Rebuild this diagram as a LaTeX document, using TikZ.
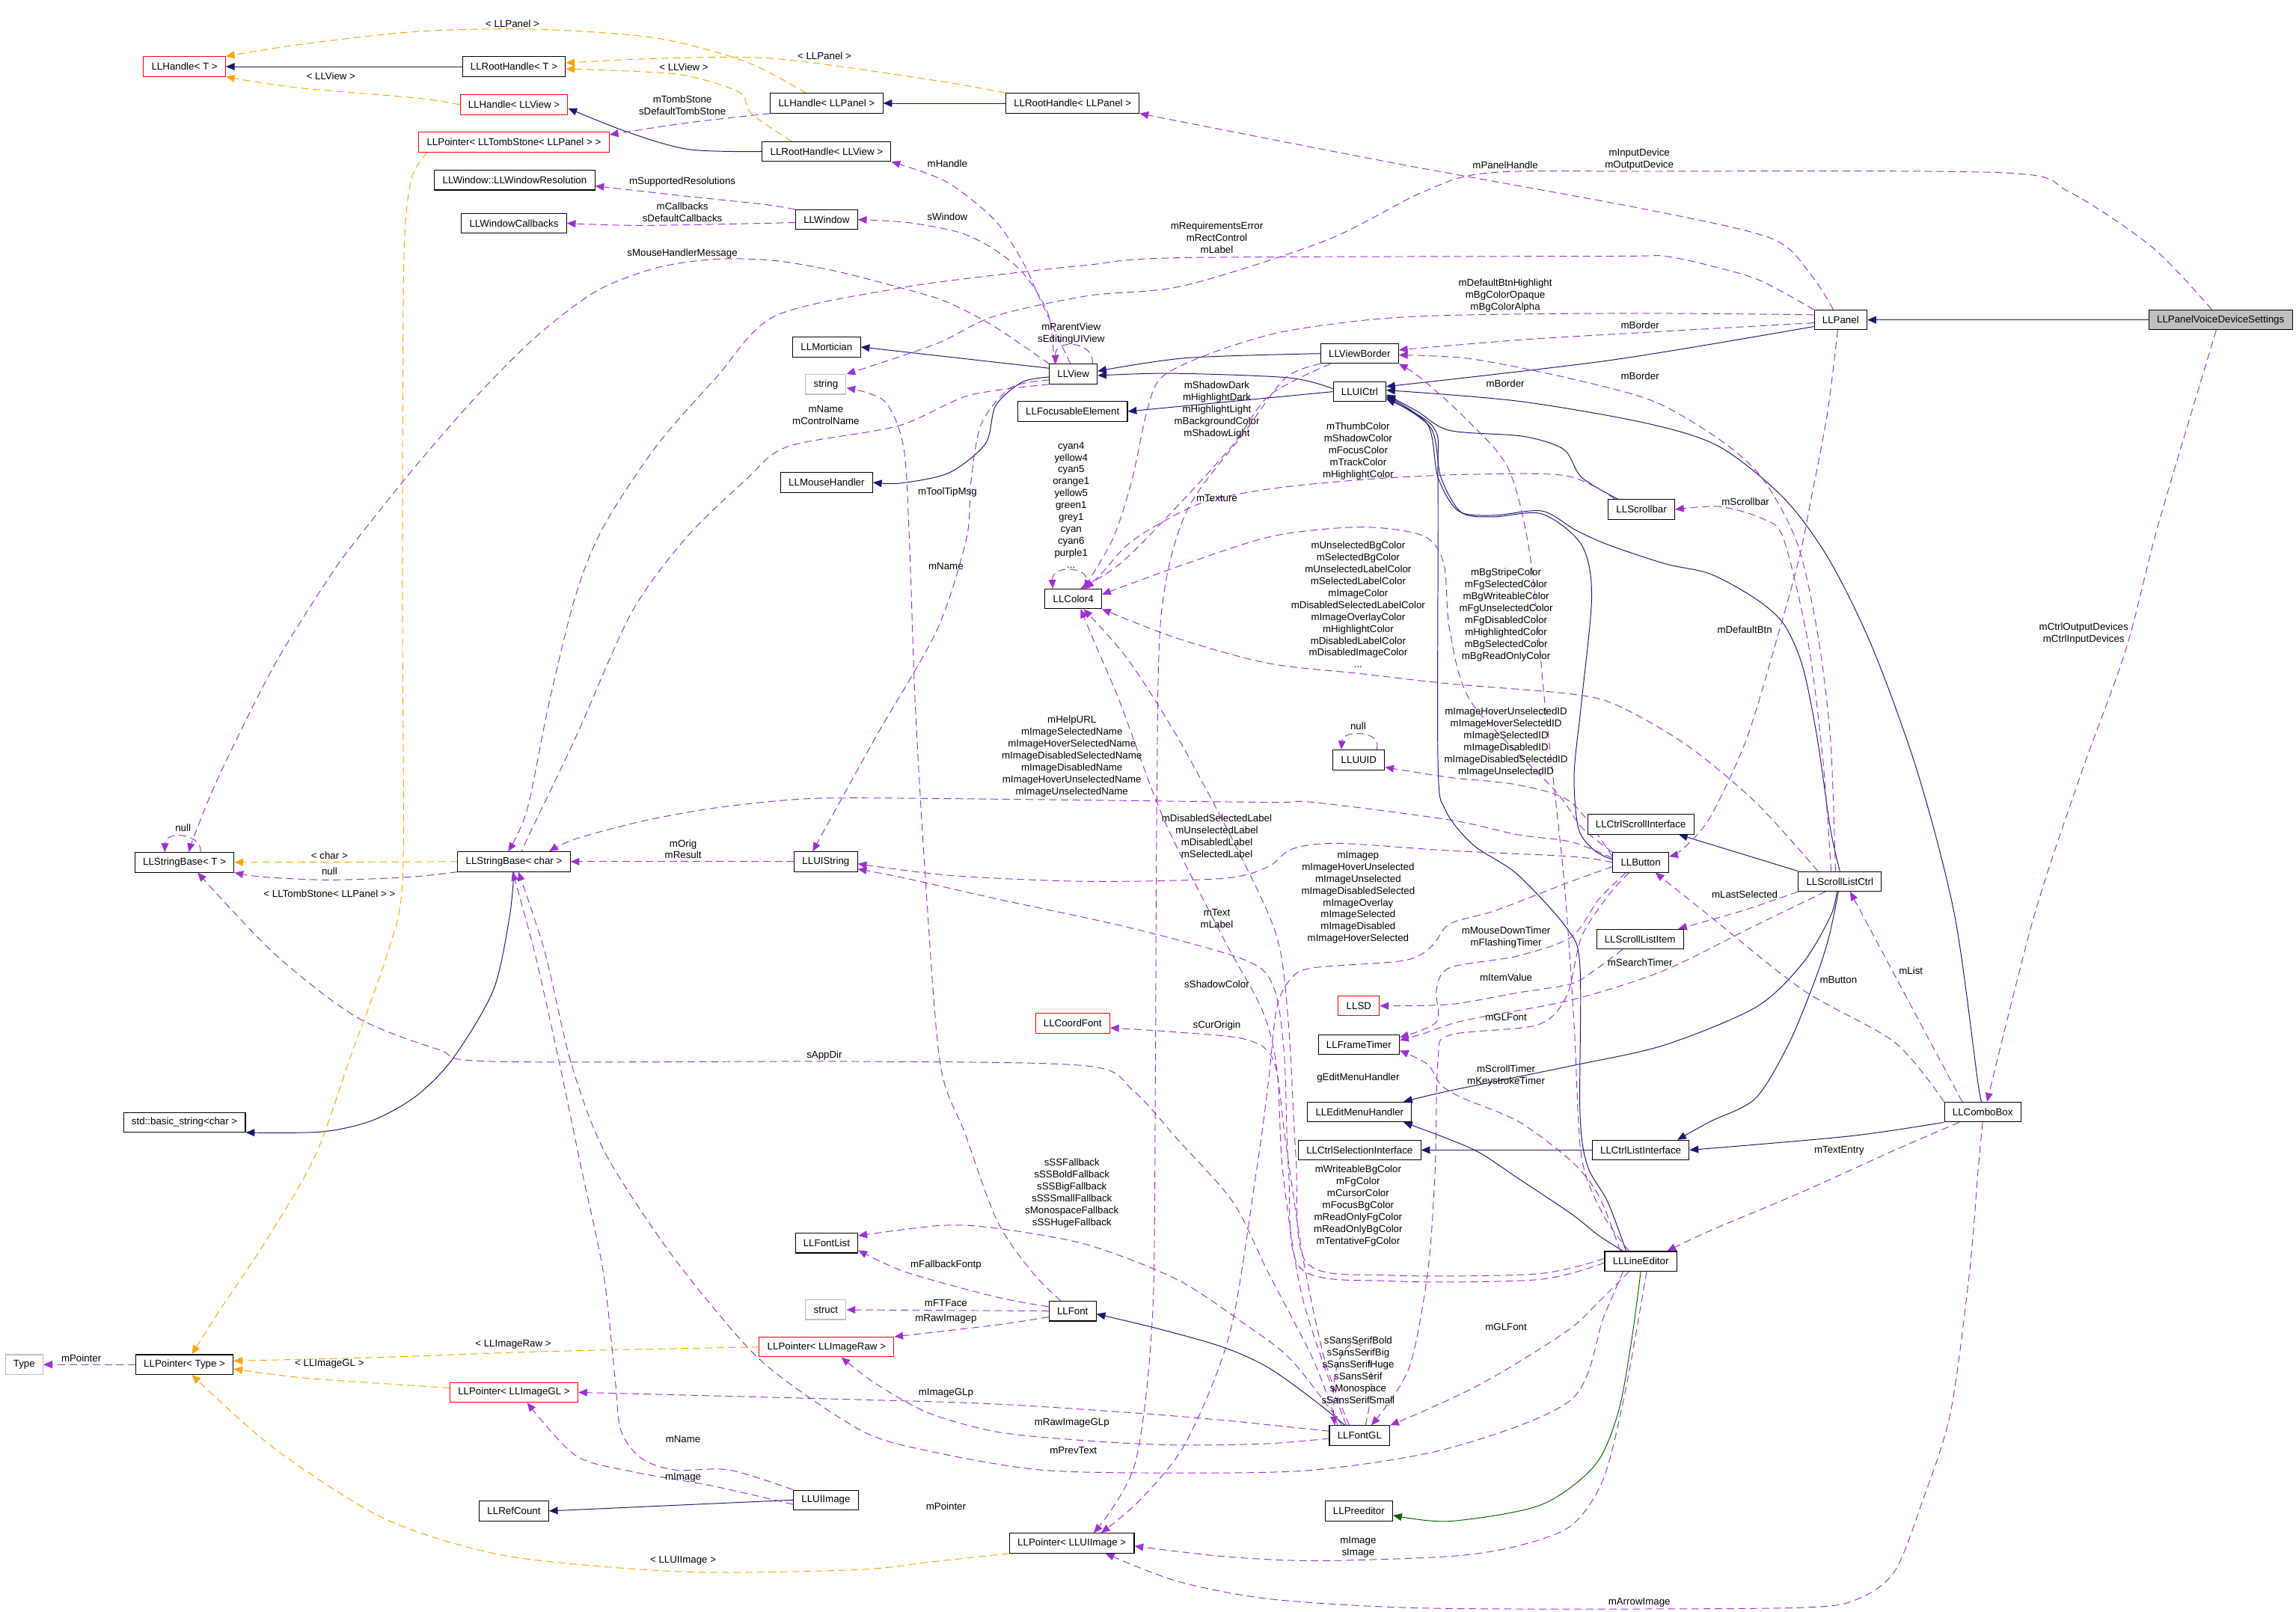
\documentclass[tikz,border=0pt]{standalone}
\usepackage{fontspec}
\setmainfont{Liberation Sans}
\usetikzlibrary{arrows.meta}
\usetikzlibrary{backgrounds}
\definecolor{edgeblue}{HTML}{191970}
\definecolor{edgepurple}{HTML}{9A32CD}
\definecolor{edgeorange}{HTML}{FFA500}
\definecolor{edgegreen}{HTML}{006400}
\definecolor{boxgray}{HTML}{BFBFBF}
\tikzset{cls/.style = {draw, fill=white, line width=0.55pt, minimum height=13.5pt,
                       inner xsep=5.5pt, inner ysep=0pt, font=\fontsize{6.8}{8.15}\selectfont}}
\tikzset{redcls/.style = {cls, draw=red}}
\tikzset{extcls/.style = {cls, draw=boxgray}}
\tikzset{maincls/.style = {cls, fill=boxgray}}
\tikzset{lbl/.style = {inner sep=0pt, align=center, font=\fontsize{6.8}{8.15}\selectfont}}
\tikzset{inherit/.style = {draw=edgeblue, line width=0.5pt, -{Triangle[length=6pt,width=5pt]}}}
\tikzset{protinh/.style = {draw=edgegreen, line width=0.5pt, -{Triangle[length=6pt,width=5pt]}}}
\tikzset{member/.style = {draw=edgepurple, line width=0.5pt, dash pattern=on 5pt off 3pt,
                          -{Triangle[length=6pt,width=5pt]}}}
\tikzset{templ/.style = {draw=edgeorange, line width=0.5pt, dash pattern=on 5pt off 3pt,
                         -{Triangle[length=6pt,width=5pt]}}}

\begin{document}
\begin{tikzpicture}[x=1pt, y=-1pt]
      \useasboundingbox (0,0) rectangle (1568,1101);

      % Draw classes
      \node[redcls] (HandleT) at (126,45.5) {LLHandle< T >};
      \node[cls] (RootHandleT) at (351,45.5) {LLRootHandle< T >};
      \node[redcls] (HandleView) at (351,71.5) {LLHandle< LLView >};
      \node[cls] (HandlePanel) at (564.5,70.5) {LLHandle< LLPanel >};
      \node[cls] (RootHandlePanel) at (732.5,70.5) {LLRootHandle< LLPanel >};
      \node[redcls] (PtrTomb) at (351,97) {LLPointer< LLTombStone< LLPanel > >};
      \node[cls] (RootHandleView) at (564.5,103.5) {LLRootHandle< LLView >};
      \node[cls] (WindowRes) at (351.5,123) {LLWindow::LLWindowResolution};
      \node[cls] (WindowCallbacks) at (351,152.5) {LLWindowCallbacks};
      \node[cls] (Window) at (564.5,150) {LLWindow};
      \node[cls] (Mortician) at (564.5,237) {LLMortician};
      \node[extcls] (String) at (564,262.5) {string};
      \node[cls] (MouseHandler) at (564.5,329.5) {LLMouseHandler};
      \node[cls] (View) at (733,255.5) {LLView};
      \node[cls] (ViewBorder) at (928.5,241.5) {LLViewBorder};
      \node[cls] (UICtrl) at (928.5,267.5) {LLUICtrl};
      \node[cls] (Focusable) at (732.5,281) {LLFocusableElement};
      \node[cls] (Panel) at (1257,218.5) {LLPanel};
      \node[maincls] (VoiceSettings) at (1516.5,218.5) {LLPanelVoiceDeviceSettings};
      \node[cls] (Scrollbar) at (1121,348) {LLScrollbar};
      \node[cls] (Color4) at (733,409) {LLColor4};
      \node[cls] (UUID) at (928,519) {LLUUID};
      \node[cls] (CtrlScroll) at (1120.5,563) {LLCtrlScrollInterface};
      \node[cls] (Button) at (1120.5,589) {LLButton};
      \node[cls] (ScrollListCtrl) at (1256.5,602) {LLScrollListCtrl};
      \node[cls] (ScrollListItem) at (1120,641.5) {LLScrollListItem};
      \node[cls] (StringBaseT) at (126,589) {LLStringBase< T >};
      \node[cls] (StringBaseChar) at (351,588.5) {LLStringBase< char >};
      \node[cls] (UIString) at (564,588.5) {LLUIString};
      \node[redcls] (SD) at (928,687) {LLSD};
      \node[redcls] (CoordFont) at (732.5,699) {LLCoordFont};
      \node[cls] (FrameTimer) at (928,713.5) {LLFrameTimer};
      \node[cls] (EditMenu) at (928.5,759.5) {LLEditMenuHandler};
      \node[cls] (CtrlSelection) at (928.5,785.5) {LLCtrlSelectionInterface};
      \node[cls] (CtrlList) at (1120.5,785.5) {LLCtrlListInterface};
      \node[cls] (ComboBox) at (1354,759.5) {LLComboBox};
      \node[cls] (LineEditor) at (1120.5,861.5) {LLLineEditor};
      \node[cls] (BasicString) at (126,766.5) {std::basic\_string<char >};
      \node[cls] (FontList) at (564.5,849) {LLFontList};
      \node[extcls] (Struct) at (564,894.5) {struct};
      \node[cls] (Font) at (732.5,895.5) {LLFont};
      \node[redcls] (PtrImageRaw) at (564.5,920) {LLPointer< LLImageRaw >};
      \node[extcls] (Type) at (16.5,932) {Type};
      \node[cls] (PtrType) at (126,932) {LLPointer< Type >};
      \node[redcls] (PtrImageGL) at (351,951) {LLPointer< LLImageGL >};
      \node[cls] (FontGL) at (928.5,980.5) {LLFontGL};
      \node[cls] (RefCount) at (351,1032) {LLRefCount};
      \node[cls] (UIImage) at (564,1024.5) {LLUIImage};
      \node[cls] (Preeditor) at (928,1032) {LLPreeditor};
      \node[cls] (PtrUIImage) at (732,1054) {LLPointer< LLUIImage >};

      \begin{scope}[on background layer]
      % Draw inheritance
      \draw[inherit] (RootHandleT) -- (HandleT);
      \draw[inherit] plot[smooth] coordinates {(RootHandleView.west) (470,102) (428,90) ([yshift=-2.5pt]HandleView.east)};
      \draw[inherit] (RootHandlePanel) -- (HandlePanel);
      \draw[inherit] ([yshift=4pt]View.west) -- (Mortician.east);
      \draw[inherit] plot[smooth] coordinates {([yshift=-2pt]View.west) (698,261) (680,277) (673,303) (648,323) (615,330) (MouseHandler.east)};
      \draw[inherit] plot[smooth] coordinates {(ViewBorder.west) (810,244.5) ([yshift=2pt]View.east)};
      \draw[inherit] plot[smooth] coordinates {([yshift=2pt]UICtrl.west) (880,258) (800,255) ([yshift=-1pt]View.east)};
      \draw[inherit] (UICtrl.west) -- (Focusable.east);
      \draw[inherit] plot[smooth] coordinates {([yshift=-4.5pt]Panel.west) (1100,246) ([yshift=3.5pt]UICtrl.east)};
      \draw[inherit] (VoiceSettings) -- (Panel);
      \draw[inherit] plot[smooth] coordinates {([xshift=-16pt]Scrollbar.north) (1080,326) (1068,307) (1040,298) (990,294) (968,281) ([yshift=-2pt]UICtrl.east)};
      \draw[inherit] plot[smooth] coordinates {([yshift=2pt]Button.west) (1089,581) (1078,566) (1075,529) (1080,480) (1087,407) (1080,372) (1053,351) (1020,353) (998,350) (984,326) (977,292) ([yshift=-4pt]UICtrl.east)};
      \draw[inherit] plot[smooth] coordinates {(ScrollListCtrl.north) (1250,566) (1241,504) (1231,455) (1218,426) (1199,409) (1168,392) (1137,385) (1098,372) (1076,362) (1053,349) (1020,352) (996,349) (982,326) (975,290) ([yshift=-3pt]UICtrl.east)};
      \draw[inherit] plot[smooth] coordinates {([xshift=-10pt]LineEditor.north) (1098,821) (1084,796) (1079,760) (1079,660) (1070,634) (1036,597) (1006,577) (987,553) (982,520) (982,330) (979,292) ([yshift=-5pt]UICtrl.east)};
      \draw[inherit] plot[smooth] coordinates {(ComboBox.north) (1351,741) (1335,626) (1310,529) (1279,443) (1249,382) (1218,340) (1174,305) (1124,289) (1037,274) ([yshift=1pt]UICtrl.east)};
      \draw[inherit] (ScrollListCtrl.north west) -- ([xshift=26pt]CtrlScroll.south);
      \draw[inherit] plot[smooth] coordinates {([xshift=-2pt]ScrollListCtrl.south) (1250,626) (1231,658) (1199,688) (1136,714) (1073,728) (990,745) ([xshift=30pt]EditMenu.north)};
      \draw[inherit] plot[smooth] coordinates {([xshift=-1pt]ScrollListCtrl.south) (1249,640) (1240,668) (1222,712) (1199,750) (1168,766) ([xshift=25pt]CtrlList.north)};
      \draw[inherit] plot[smooth] coordinates {(ComboBox.south west) (1263,776) (CtrlList.east)};
      \draw[inherit] (CtrlList) -- (CtrlSelection);
      \draw[inherit] plot[smooth] coordinates {([xshift=-12pt]LineEditor.north) (1092,844) (1073,829) (1037,805) (1006,785) ([xshift=30pt]EditMenu.south)};
      \draw[protinh] plot[smooth] coordinates {(LineEditor.south) (1114,917) (1105,965) (1089,1001) (1052,1028) (990,1039) ([yshift=-3pt]Preeditor.east)};
      \draw[inherit] plot[smooth] coordinates {([xshift=-10pt]FontGL.north) (897,956) (866,934) (835,920) (789,907) ([yshift=-2pt]Font.east)};
      \draw[inherit] (UIImage.west) -- (RefCount.east);
      \draw[inherit] plot[smooth] coordinates {(StringBaseChar.south) (348,626) (337,676) (310,722) (285,748) (255,765) (220,773) (BasicString.south east)};

      % Draw template instances
      \draw[templ] plot[smooth] coordinates {(HandleView.west) (285,67) (204,60) (HandleT.south east)};
      \draw[templ] plot[smooth] coordinates {([xshift=-14pt]HandlePanel.north) (509,42) (448,26) (366,20) (285,21.5) (204,30.5) (HandleT.north east)};
      \draw[templ] plot[smooth] coordinates {(RootHandlePanel.north west) (639,55) (529,40) (448,40) ([yshift=2.5pt]RootHandleT.east)};
      \draw[templ] plot[smooth] coordinates {([xshift=-24pt]RootHandleView.north) (513,77.5) (505,63) (468,51.5) (428,48.5) ([yshift=-1.5pt]RootHandleT.east)};
      \draw[templ] plot[smooth] coordinates {([xshift=-59pt]PtrTomb.south) (281,122) (276,170) (275,300) (275,450) (275,600) (265,650) (240,720) (215,790) (180,850) (150,895) ([xshift=5pt]PtrType.north)};
      \draw[templ] (StringBaseChar.west) -- (StringBaseT.east);
      \draw[templ] plot[smooth] coordinates {(PtrImageRaw.west) (375,923) (262,927) ([yshift=2.5pt]PtrType.east)};
      \draw[templ] plot[smooth] coordinates {([yshift=3pt]PtrImageGL.west) (262,945) (206,941) ([yshift=-3pt]PtrType.east)};
      \draw[templ] plot[smooth] coordinates {(PtrUIImage.south west) (634,1067) (588,1072) (487,1074) (412,1070) (337,1061) (262,1037) (187,989) ([xshift=5pt]PtrType.south)};

      % Draw members
      \draw[member] plot[smooth] coordinates {(HandlePanel.south west) (468.5,84) ([yshift=5pt]PtrTomb.east)};
      \draw[member] plot[smooth] coordinates {(Window.north west) (521,139.5) (468.5,134) ([yshift=-4pt]WindowRes.east)};
      \draw[member] plot[smooth] coordinates {([yshift=-2pt]Window.west) (440,154) (WindowCallbacks.east)};
      \draw[member] plot[smooth] coordinates {([xshift=-13pt]View.north) (716,215) (700,188) (680,171) (656,159) (620,152) (Window.east)};
      \draw[member] plot[smooth] coordinates {([xshift=-2pt]View.north) (720,225) (711,206) (698,178) (679,150) (646,124) (RootHandleView.south east)};
      \draw[member] ([xshift=13pt]View.north) .. controls (748,233) and (720,231) .. ([xshift=-12pt]View.north);
      \draw[member] plot[smooth] coordinates {([xshift=-5pt]Panel.north) (1237,188) (1210,163) (1124,143) (950,111) (RootHandlePanel.south east)};
      \draw[member] plot[smooth] coordinates {([xshift=-6pt]VoiceSettings.north) (1470,169) (1413,131) (1368,118) (1124,117) (1017,118) (972,131) (906,164) (809,195) (743,202) (679,216) (639,235) (String.north east)};
      \draw[member] plot[smooth] coordinates {(Panel.north west) (1203,192) (1174,183) (1137,175) (1099,175) (809,176) (743,181) (679,188) (613,197) (529,216) (489,258) (448,305) (412,360) (393,407) (375,480) (360,553) ([xshift=-4pt]StringBaseChar.north)};
      \draw[member] plot[smooth] coordinates {(View.south west) (662,270) (613,291) (538,305) (509,328) (468,368) (431,419) (393,504) (360,573) ([xshift=6pt]StringBaseChar.north)};
      \draw[member] plot[smooth] coordinates {(View.north west) (679,223) (646,206) (613,196) (570,185) (529,178) (489,177) (448,183) (407,199) (366,230) (326,270) (285,317) (244,368) (225,394) (187,455) (150,529) (133,570) ([xshift=3pt]StringBaseT.north)};
      \draw[member] plot[smooth] coordinates {([yshift=3.5pt]Panel.west) (1124,214) (1004,215) (939,218) (874,227) (825,242) (793,258) (783,282) (773,328) (760,368) ([xshift=7pt]Color4.north)};
      \draw[member] plot[smooth] coordinates {([xshift=-20pt]ViewBorder.south) (867,270) (841,305) (800,350) (765,385) ([xshift=5pt]Color4.north)};
      \draw[member] plot[smooth] coordinates {([xshift=-18pt]Scrollbar.north) (1070,325) (1004,324) (939,327) (874,333) (825,342) (793,357) (770,372) (752,392) ([xshift=8pt]Color4.north)};
      \draw[member] ([xshift=9pt]Color4.north) .. controls (748,386) and (718,385) .. ([xshift=-14pt]Color4.north);
      \draw[member] plot[smooth] coordinates {(Button.north west) (1080,565) (1062,540) (1005,480) (990,430) (986,385) (972,366) (930,360) (870,366) (810,385) ([yshift=3pt]Color4.east)};
      \draw[member] plot[smooth] coordinates {([xshift=-15pt]ScrollListCtrl.north) (1199,548) (1152,509) (1105,482) (1073,474) (990,467) (928,460) (866,453) (804,436) (Color4.south east)};
      \draw[member] plot[smooth] coordinates {([yshift=2pt]LineEditor.west) (1050,870) (950,871) (892,862) (885,790) (880,700) (872,640) (845,580) (805,505) (770,450) ([xshift=7pt]Color4.south)};
      \draw[member] plot[smooth] coordinates {([xshift=-9pt]FontGL.north) (905,935) (888,880) (876,800) (872,730) (862,690) (835,640) (795,560) (765,480) (748,440) ([xshift=5pt]Color4.south)};
      \draw[member] ([xshift=12pt]UUID.north) .. controls (945,499) and (917,498) .. ([xshift=-12pt]UUID.north);
      \draw[member] plot[smooth] coordinates {([yshift=4pt]Button.west) (1073,548) (1036,536) (990,531) ([yshift=-5pt]UUID.east)};
      \draw[member] plot[smooth] coordinates {([yshift=3pt]Button.west) (1073,575) (1036,570) (990,560) (897,548) (866,548) (700,546) (588,545) (543,546) (487,552) (438,561) (393,573) ([xshift=24pt]StringBaseChar.north)};
      \draw[member] plot[smooth] coordinates {(Button.west) (1073,585) (990,581) (913,576) (882,580) (866,592) (835,600) (742,602) (650,598) ([yshift=-1.5pt]UIString.east)};
      \draw[member] plot[smooth] coordinates {([yshift=-1pt]LineEditor.west) (1050,874) (950,875) (888,866) (880,800) (877,720) (870,675) (851,656) (773,634) (681,614) (619,600) ([yshift=-5pt]UIString.east)};
      \draw[member] plot[smooth] coordinates {([yshift=-4pt]View.west) (690,265) (670,290) (663,330) (660,368) (640,430) (600,500) (575,545) ([xshift=-9pt]UIString.north)};
      \draw[member] (UIString) -- (StringBaseChar);
      \draw[member] plot[smooth] coordinates {(StringBaseChar.south west) (280,599) (225,601) (180,599) (StringBaseT.south east)};
      \draw[member] ([xshift=11pt]StringBaseT.north) .. controls (138,569) and (113,567) .. ([xshift=-13.5pt]StringBaseT.north);
      \draw[member] plot[smooth] coordinates {([xshift=-15pt]FontGL.north) (897,929) (866,869) (842,821) (804,778) (774,745) (742,728) (588,725) (337,725) (300,717) (244,695) (187,651) ([xshift=9pt]StringBaseT.south)};
      \draw[member] plot[smooth] coordinates {([xshift=-7pt]FontGL.north) (905,930) (890,860) (878,780) (870,725) (851,710) (804,705) ([yshift=-3pt]CoordFont.east)};
      \draw[member] ([xshift=4pt]FontGL.north) .. controls (950,900) and (905,900) .. ([xshift=-17pt]FontGL.north);
      \draw[member] plot[smooth] coordinates {([xshift=-12pt]FontGL.north) (882,929) (851,905) (804,874) (742,850) (681,839) (643,837) ([yshift=5pt]FontList.east)};
      \draw[member] plot[smooth] coordinates {([yshift=3pt]Font.west) (681,886) (619,869) ([yshift=-5pt]FontList.east)};
      \draw[member] plot[smooth] coordinates {([xshift=-8pt]Font.north) (705,869) (681,834) (659,774) (642,726) (632,600) (625,480) (621,368) (617,305) (604,274) ([yshift=-2.5pt]String.east)};
      \draw[member] (Font) -- (Struct);
      \draw[member] plot[smooth] coordinates {([yshift=-4pt]Font.west) (680,905) (PtrImageRaw.north east)};
      \draw[member] plot[smooth] coordinates {([yshift=3pt]FontGL.west) (835,970) (774,965) (681,959) (588,956) (PtrImageGL.east)};
      \draw[member] plot[smooth] coordinates {([yshift=-2pt]FontGL.west) (866,986) (804,987) (742,984) (681,978) (634,965) (598,945) ([xshift=10pt]PtrImageRaw.south)};
      \draw[member] (PtrType) -- (Type);
      \draw[member] plot[smooth] coordinates {([yshift=-3pt]UIImage.west) (487,1015) (431,1005) (393,994) ([xshift=9pt]PtrImageGL.south)};
      \draw[member] plot[smooth] coordinates {(UIImage.north west) (498,1004) (461,1004) (438,996) (424,977) (420,941) (412,869) (397,798) (382,726) (365,650) ([xshift=-1pt]StringBaseChar.south)};
      \draw[member] plot[smooth] coordinates {([xshift=-12pt]LineEditor.south) (1095,900) (1073,956) (990,989) (897,1004) (804,1006) (711,1004) (634,991) (588,977) (525,934) (487,893) (450,845) (412,785) (390,726) (372,650) ([xshift=3pt]StringBaseChar.south)};
      \draw[member] plot[smooth] coordinates {([xshift=-8pt]LineEditor.south) (1092,889) (1073,907) (1036,931) (1006,948) (974,963) (FontGL.north east)};
      \draw[member] plot[smooth] coordinates {([xshift=4pt]LineEditor.south) (1110,950) (1095,1010) (1073,1042) (1036,1056) (990,1063) (897,1066) (835,1063) ([yshift=-2pt]PtrUIImage.east)};
      \draw[member] plot[smooth] coordinates {([xshift=-8pt]LineEditor.north) (1095,830) (1080,790) (1075,700) (1068,600) (1055,480) (1045,380) (1030,320) (1000,285) (970,258) (ViewBorder.south east)};
      \draw[member] plot[smooth] coordinates {([xshift=-14pt]LineEditor.north) (1092,817) (1073,793) (1037,766) (999,750) (984,741) (975,727) ([yshift=-4pt]FrameTimer.east)};
      \draw[member] plot[smooth] coordinates {([xshift=-10pt]Button.south) (1092,614) (1073,640) (1036,653) (990,661) (981,676) (981,698) ([yshift=5pt]FrameTimer.east)};
      \draw[member] plot[smooth] coordinates {([xshift=-10pt]ScrollListCtrl.south) (1199,632) (1136,663) (1073,683) (1000,697) (972,706) ([yshift=3pt]FrameTimer.east)};
      \draw[member] plot[smooth] coordinates {([xshift=-12pt]ScrollListItem.south) (1090,662) (1073,672) (1037,678) (990,686) (SD.east)};
      \draw[member] plot[smooth] coordinates {([xshift=-8pt]Button.south) (1098,612) (1080,640) (1070,680) (1050,700) (990,707) (982,724) (980,800) (975,869) (962,935) ([xshift=8pt]FontGL.north)};
      \draw[member] plot[smooth] coordinates {([yshift=-3pt]Button.west) (1073,602) (1021,622) (990,631) (978,646) (959,656) (897,661) (882,668) (872,688) (866,741) (858,800) (840,910) (810,985) (778,1025) ([xshift=20pt]PtrUIImage.north)};
      \draw[member] plot[smooth] coordinates {(ViewBorder.south west) (878,258) (850,295) (810,350) (793,420) (790,550) (789,741) (787,900) (775,1000) ([xshift=15pt]PtrUIImage.north)};
      \draw[member] plot[smooth] coordinates {(ComboBox.south) (1351,798) (1345,869) (1332,965) (1313,1025) (1294,1073) (1269,1092) (1231,1098) (1073,1099) (959,1098) (866,1092) (804,1080) ([xshift=23pt]PtrUIImage.south)};
      \draw[member] plot[smooth] coordinates {([xshift=-16pt]ComboBox.south) (1294,785.5) (1231,814) (1168,840.5) ([xshift=18pt]LineEditor.north)};
      \draw[member] ([xshift=-14pt]ComboBox.north) -- ([xshift=7pt]ScrollListCtrl.south);
      \draw[member] plot[smooth] coordinates {(ComboBox.north west) (1294,712) (1231,676) (1168,626) ([xshift=10pt]Button.south)};
      \draw[member] plot[smooth] coordinates {([xshift=-3pt]VoiceSettings.south) (1474,358) (1452,443) (1421,529) (1389,626) ([xshift=3pt]ComboBox.north)};
      \draw[member] plot[smooth] coordinates {([xshift=-2pt]Panel.south) (1248,282) (1237,340) (1229,380) (1215,431) (1193,504) (1168,558) (1149,580) ([yshift=4pt]Button.east)};
      \draw[member] plot[smooth] coordinates {([yshift=-2pt]Panel.west) (1124,227) (1040,232) ([yshift=2.5pt]ViewBorder.east)};
      \draw[member] plot[smooth] coordinates {([xshift=-3pt]ScrollListCtrl.north) (1250,504) (1241,431) (1227,370) (1203,326) (1174,300) (1129,274) (1070,258) (1004,245) ([yshift=-1pt]ViewBorder.east)};
      \draw[member] plot[smooth] coordinates {([xshift=-6pt]ScrollListCtrl.north) (1245,520) (1235,440) (1218,368) (1203,354) (1174,346) (Scrollbar.east)};
      \draw[member] plot[smooth] coordinates {(ScrollListCtrl.south west) (1190,622) ([xshift=26pt]ScrollListItem.north)};
      \end{scope}

      % Draw labels
      \node[lbl] (lPanelT) at (350,16) {< LLPanel >};
      \node[lbl] (lViewT) at (226,52) {< LLView >};
      \node[lbl] (lRootPanelT) at (563,38) {< LLPanel >};
      \node[lbl] (lRootViewT) at (467,46) {< LLView >};
      \node[lbl] (lTombStone) at (466,72) {mTombStone\\sDefaultTombStone};
      \node[lbl] (lResolutions) at (466,124) {mSupportedResolutions};
      \node[lbl] (lCallbacks) at (466,145) {mCallbacks\\sDefaultCallbacks};
      \node[lbl] (lMouseMsg) at (466,173) {sMouseHandlerMessage};
      \node[lbl] (lHandle) at (647,112) {mHandle};
      \node[lbl] (lWindow) at (647,148) {sWindow};
      \node[lbl] (lParentView) at (731.5,228) {mParentView\\sEditingUIView};
      \node[lbl] (lControlName) at (564,283.5) {mName\\mControlName};
      \node[lbl] (lToolTip) at (647,336) {mToolTipMsg};
      \node[lbl] (lFontName) at (646,387) {mName};
      \node[lbl] (lRequirements) at (831,162.5) {mRequirementsError\\mRectControl\\mLabel};
      \node[lbl] (lPanelHandle) at (1028,113) {mPanelHandle};
      \node[lbl] (lDevice) at (1119.5,109) {mInputDevice\\mOutputDevice};
      \node[lbl] (lBtnHighlight) at (1028,202) {mDefaultBtnHighlight\\mBgColorOpaque\\mBgColorAlpha};
      \node[lbl] (lBorderPanel) at (1120,222) {mBorder};
      \node[lbl] (lBorderList) at (1120,257) {mBorder};
      \node[lbl] (lBorderEditor) at (1028,262) {mBorder};
      \node[lbl] (lShadow) at (831,280) {mShadowDark\\mHighlightDark\\mHighlightLight\\mBackgroundColor\\mShadowLight};
      \node[lbl] (lThumb) at (927.5,308) {mThumbColor\\mShadowColor\\mFocusColor\\mTrackColor\\mHighlightColor};
      \node[lbl] (lTexture) at (831,340) {mTexture};
      \node[lbl] (lScrollbar) at (1192,342.5) {mScrollbar};
      \node[lbl] (lColorNames) at (731.5,345) {cyan4\\yellow4\\cyan5\\orange1\\yellow5\\green1\\grey1\\cyan\\cyan6\\purple1\\...};
      \node[lbl] (lButtonColors) at (927.5,413) {mUnselectedBgColor\\mSelectedBgColor\\mUnselectedLabelColor\\mSelectedLabelColor\\mImageColor\\mDisabledSelectedLabelColor\\mImageOverlayColor\\mHighlightColor\\mDisabledLabelColor\\mDisabledImageColor\\...};
      \node[lbl] (lListColors) at (1028.5,420) {mBgStripeColor\\mFgSelectedColor\\mBgWriteableColor\\mFgUnselectedColor\\mFgDisabledColor\\mHighlightedColor\\mBgSelectedColor\\mBgReadOnlyColor};
      \node[lbl] (lDefaultBtn) at (1191.5,430) {mDefaultBtn};
      \node[lbl] (lCtrlDevices) at (1423,433) {mCtrlOutputDevices\\mCtrlInputDevices};
      \node[lbl] (lNullUUID) at (927.5,496) {null};
      \node[lbl] (lImageIDs) at (1028.5,506.75) {mImageHoverUnselectedID\\mImageHoverSelectedID\\mImageSelectedID\\mImageDisabledID\\mImageDisabledSelectedID\\mImageUnselectedID};
      \node[lbl] (lImageNames) at (732,516.5) {mHelpURL\\mImageSelectedName\\mImageHoverSelectedName\\mImageDisabledSelectedName\\mImageDisabledName\\mImageHoverUnselectedName\\mImageUnselectedName};
      \node[lbl] (lLabels) at (831,571) {mDisabledSelectedLabel\\mUnselectedLabel\\mDisabledLabel\\mSelectedLabel};
      \node[lbl] (lOrig) at (466.5,580) {mOrig\\mResult};
      \node[lbl] (lChar) at (225,584.5) {< char >};
      \node[lbl] (lNullChar) at (225,595) {null};
      \node[lbl] (lNullT) at (125,565.5) {null};
      \node[lbl] (lImages) at (927.5,613) {mImagep\\mImageHoverUnselected\\mImageUnselected\\mImageDisabledSelected\\mImageOverlay\\mImageSelected\\mImageDisabled\\mImageHoverSelected};
      \node[lbl] (lTombT) at (225,610.5) {< LLTombStone< LLPanel > >};
      \node[lbl] (lLastSelected) at (1191.5,611) {mLastSelected};
      \node[lbl] (lText) at (831,627.5) {mText\\mLabel};
      \node[lbl] (lTimers) at (1028.5,640) {mMouseDownTimer\\mFlashingTimer};
      \node[lbl] (lSearchTimer) at (1120,657.5) {mSearchTimer};
      \node[lbl] (lList) at (1305,663) {mList};
      \node[lbl] (lItemValue) at (1028.5,667.5) {mItemValue};
      \node[lbl] (lButton) at (1255.5,669.5) {mButton};
      \node[lbl] (lShadowColor) at (831,672) {sShadowColor};
      \node[lbl] (lGLFontBtn) at (1028.5,695) {mGLFont};
      \node[lbl] (lCurOrigin) at (831,700.5) {sCurOrigin};
      \node[lbl] (lAppDir) at (563,721) {sAppDir};
      \node[lbl] (lEditMenu) at (927.5,736) {gEditMenuHandler};
      \node[lbl] (lScrollTimer) at (1028.5,734.5) {mScrollTimer\\mKeystrokeTimer};
      \node[lbl] (lTextEntry) at (1256,786) {mTextEntry};
      \node[lbl] (lFallbacks) at (732,815) {sSSFallback\\sSSBoldFallback\\sSSBigFallback\\sSSSmallFallback\\sMonospaceFallback\\sSSHugeFallback};
      \node[lbl] (lEditorColors) at (927.5,823.5) {mWriteableBgColor\\mFgColor\\mCursorColor\\mFocusBgColor\\mReadOnlyFgColor\\mReadOnlyBgColor\\mTentativeFgColor};
      \node[lbl] (lFallbackFont) at (646,864) {mFallbackFontp};
      \node[lbl] (lFTFace) at (646,890) {mFTFace};
      \node[lbl] (lRawImage) at (646,901) {mRawImagep};
      \node[lbl] (lGLFontEditor) at (1028.5,906.5) {mGLFont};
      \node[lbl] (lImageRawT) at (350.5,918) {< LLImageRaw >};
      \node[lbl] (lPointerType) at (55.5,927.5) {mPointer};
      \node[lbl] (lImageGLT) at (225,931.5) {< LLImageGL >};
      \node[lbl] (lSansSerif) at (927.5,936) {sSansSerifBold\\sSansSerifBig\\sSansSerifHuge\\sSansSerif\\sMonospace\\sSansSerifSmall};
      \node[lbl] (lImageGLp) at (646,951.5) {mImageGLp};
      \node[lbl] (lRawImageGLp) at (732,972) {mRawImageGLp};
      \node[lbl] (lImageName) at (466.5,983) {mName};
      \node[lbl] (lPrevText) at (733,990.5) {mPrevText};
      \node[lbl] (lImage) at (466.5,1009) {mImage};
      \node[lbl] (lPointerImage) at (646,1029) {mPointer};
      \node[lbl] (lEditorImage) at (927.5,1056.5) {mImage\\sImage};
      \node[lbl] (lUIImageT) at (466.5,1066) {< LLUIImage >};
      \node[lbl] (lArrowImage) at (1119.5,1094.5) {mArrowImage};
    \end{tikzpicture}
\end{document}
